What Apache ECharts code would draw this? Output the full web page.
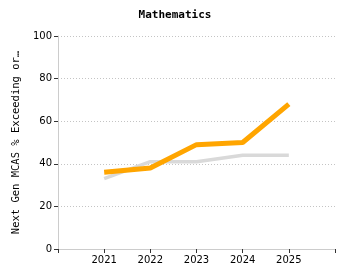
<!DOCTYPE html>
<html><head><meta charset="utf-8">
<script src="https://cdn.jsdelivr.net/npm/echarts@6/dist/echarts.min.js"></script>
<style>html,body{margin:0;padding:0;background:#fff}#c{width:350px;height:280px}</style>
</head><body><div id="c"></div>
<script>
const years = [2021, 2022, 2023, 2024, 2025];
const schoolValues = [36, 38, 49, 50, 68];
const stateValues = [33, 41, 41, 44, 44];
const yTicks = [0, 20, 40, 60, 80, 100];
const titleText = 'Mathematics';
const yName = 'Next Gen MCAS % Exceeding or\u2026';

const chart = echarts.init(document.getElementById('c'), null, {renderer: 'canvas'});
chart.setOption({
  animation: false,
  title: {text: titleText, left: 'center', top: 5, textStyle: {fontFamily: 'DejaVu Sans Mono', fontWeight: 'bold', fontSize: 11, color: '#000'}},
  grid: {left: 58, right: 15, top: 36, bottom: 31, containLabel: false},
  xAxis: {
    type: 'value', min: 2020, max: 2026, interval: 1,
    axisLine: {show: true, lineStyle: {color: '#ccc', width: 1}},
    axisTick: {show: true, length: 4, lineStyle: {color: '#333'}},
    splitLine: {show: false},
    axisLabel: {fontFamily: 'DejaVu Sans', fontSize: 10, color: '#000', margin: 6,
      formatter: v => years.includes(v) ? String(v) : ''}
  },
  yAxis: {
    type: 'value', min: yTicks[0], max: yTicks[yTicks.length - 1], interval: 20,
    name: yName, nameLocation: 'middle', nameGap: 30,
    nameTextStyle: {fontFamily: 'DejaVu Sans Mono', fontSize: 10.5, color: '#000'},
    axisLine: {show: true, lineStyle: {color: '#ccc'}},
    axisTick: {show: true, length: 4, lineStyle: {color: '#333'}},
    splitLine: {show: true, lineStyle: {color: '#c4c4c4', type: [1, 2]}},
    axisLabel: {fontFamily: 'DejaVu Sans', fontSize: 10, color: '#000', margin: 6}
  },
  series: [
    {type: 'line', data: years.map((y, i) => [y, stateValues[i]]), showSymbol: false,
      lineStyle: {color: '#d9d9d9', width: 3.5}, z: 1},
    {type: 'line', data: years.map((y, i) => [y, schoolValues[i]]), showSymbol: false,
      lineStyle: {color: '#FFA500', width: 5}, z: 2}
  ]
});
</script></body></html>
